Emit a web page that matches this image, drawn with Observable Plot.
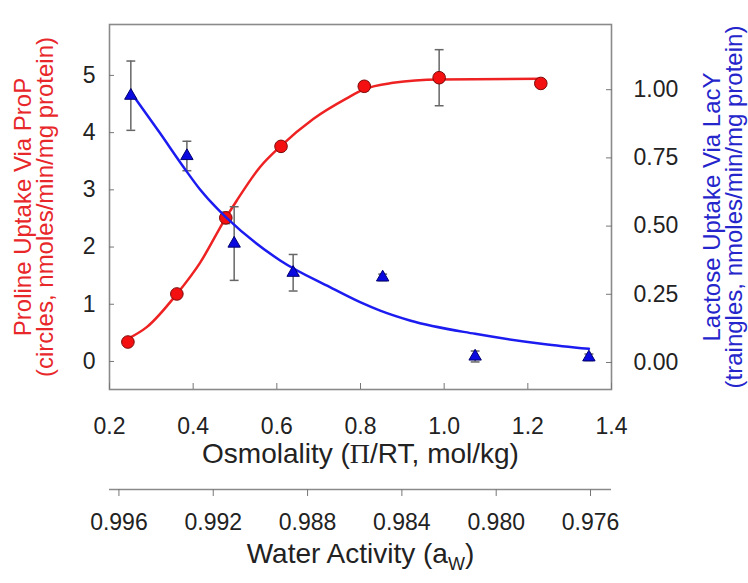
<!DOCTYPE html>
<html><head><meta charset="utf-8">
<script src="https://cdn.jsdelivr.net/npm/d3@7"></script>
<script src="https://cdn.jsdelivr.net/npm/@observablehq/plot@0.6"></script>
<style>
body{margin:0;background:#fff;}
#chart{position:relative;width:748px;height:583px;font-family:"Liberation Sans",Arial,sans-serif;}
#chart svg{position:absolute;left:0;top:0;}
</style></head><body><div id="chart"></div>
<script>
// Proline uptake via ProP (circles, left axis)
const prolineOsm = [0.244, 0.361, 0.478, 0.610, 0.809, 0.988, 1.231];
const prolineUptake = [0.34, 1.18, 2.51, 3.76, 4.81, 4.96, 4.86];
const prolineErr = [0, 0, 0.10, 0, 0.08, 0.49, 0];
// Lactose uptake via LacY (triangles, right axis)
const lactoseOsm = [0.251, 0.385, 0.498, 0.639, 0.853, 1.074, 1.346];
const lactoseUptake = [0.978, 0.757, 0.436, 0.329, 0.312, 0.022, 0.019];
const lactoseErr = [0.127, 0.054, 0.135, 0.067, 0.012, 0.020, 0.012];
// fitted curves
const prolineFitOsm = [0.245, 0.289, 0.361, 0.416, 0.478, 0.504, 0.560, 0.610, 0.687, 0.767, 0.809, 0.878, 0.988, 1.229];
const prolineFit = [0.40, 0.60, 1.18, 1.72, 2.51, 2.81, 3.40, 3.77, 4.24, 4.60, 4.76, 4.87, 4.93, 4.94];
const lactoseFitOsm = [0.257, 0.321, 0.373, 0.416, 0.460, 0.480, 0.608, 0.727, 0.799, 0.847, 0.918, 1.074, 1.237, 1.346];
const lactoseFit = [0.978, 0.840, 0.725, 0.635, 0.560, 0.530, 0.374, 0.276, 0.221, 0.190, 0.154, 0.105, 0.068, 0.050];
// ticks
const osmTicks = [0.2, 0.4, 0.6, 0.8, 1.0, 1.2, 1.4];
const prolineTicks = [0, 1, 2, 3, 4, 5];
const lactoseTicks = [0, 0.25, 0.5, 0.75, 1.0];
const awTicks = [0.996, 0.992, 0.988, 0.984, 0.980, 0.976];
const awDomain = [0.99640, 0.97511];
// labels
const xTitle = "Osmolality (\u03A0/RT, mol/kg)";
const awTitle = "Water Activity (aW)";
const leftTitle = "Proline Uptake Via ProP\n(circles, nmoles/min/mg protein)";
const rightTitle = "Lactose Uptake Via LacY\n(traingles, nmoles/min/mg protein)";

const proline = prolineOsm.map((x, i) => ({x, v: prolineUptake[i], e: prolineErr[i]}));
const lactose = lactoseOsm.map((x, i) => ({x, v: lactoseUptake[i], e: lactoseErr[i]}));
const prolineCurve = prolineFitOsm.map((x, i) => ({x, v: prolineFit[i]}));
const lactoseCurve = lactoseFitOsm.map((x, i) => ({x, v: lactoseFit[i]}));

const W = 748, H = 583;
const M = {left: 109, right: 137, top: 24, bottom: 194};
const font = '"Liberation Sans", Arial, sans-serif';
const RED = "#ee2222", BLUE = "#1c1cf0";
const TITLE_RED = "#e8272b", TITLE_BLUE = "#2525cc";
const capSymbol = {draw(ctx, size) { const w = Math.sqrt(size) / 2; ctx.moveTo(-w, 0); ctx.lineTo(w, 0); }};
const style = {fontFamily: font, fontSize: "23px", color: "#222", background: "transparent", overflow: "visible"};

const p1 = Plot.plot({
  width: W, height: H,
  marginLeft: M.left, marginRight: M.right, marginTop: M.top, marginBottom: M.bottom,
  style,
  x: {domain: [0.2, 1.4]},
  y: {domain: [-0.49, 5.89]},
  marks: [
    Plot.frame({stroke: "#8a8a8a", strokeWidth: 1.6}),
    Plot.axisX(osmTicks, {anchor: "bottom", tickSize: -6, tickPadding: 34, tickFormat: d3.format(".1f"), stroke: "#777", fill: "#222", fontSize: 23, label: null}),
    Plot.axisY(prolineTicks, {anchor: "left", tickSize: -5, tickPadding: 19, tickFormat: d3.format("d"), stroke: "#777", fill: "#222", fontSize: 23, label: null}),
    Plot.ruleX(proline.filter(d => d.e > 0), {x: "x", y1: d => d.v - d.e, y2: d => d.v + d.e, stroke: "#666", strokeWidth: 1.5}),
    Plot.dot(proline.filter(d => d.e > 0), {x: "x", y: d => d.v + d.e, symbol: capSymbol, r: 5, stroke: "#666", fill: "none", strokeWidth: 1.5}),
    Plot.dot(proline.filter(d => d.e > 0), {x: "x", y: d => d.v - d.e, symbol: capSymbol, r: 5, stroke: "#666", fill: "none", strokeWidth: 1.5}),
    Plot.line(prolineCurve, {x: "x", y: "v", curve: "monotone-x", stroke: RED, strokeWidth: 2.5}),
    Plot.dot(proline, {x: "x", y: "v", r: 6.3, fill: "#f41010", stroke: "#7a0a0a", strokeWidth: 1}),
    Plot.text([xTitle], {frameAnchor: "bottom", dy: 73, fontSize: 28, fill: "#222"}),
    Plot.text([leftTitle], {frameAnchor: "left", textAnchor: "middle", dx: -75, rotate: -90, fontSize: 24, lineHeight: 0.92, fill: TITLE_RED})
  ]
});

const p2 = Plot.plot({
  width: W, height: H,
  marginLeft: M.left, marginRight: M.right, marginTop: M.top, marginBottom: M.bottom,
  style,
  x: {domain: [0.2, 1.4], axis: null},
  y: {domain: [-0.099, 1.239]},
  marks: [
    Plot.axisY(lactoseTicks, {anchor: "right", tickSize: -6, tickPadding: 28, tickFormat: d3.format(".2f"), stroke: "#777", fill: "#222", fontSize: 23, label: null}),
    Plot.ruleX(lactose, {x: "x", y1: d => d.v - d.e, y2: d => d.v + d.e, stroke: "#666", strokeWidth: 1.5}),
    Plot.dot(lactose, {x: "x", y: d => d.v + d.e, symbol: capSymbol, r: 5, stroke: "#666", fill: "none", strokeWidth: 1.5}),
    Plot.dot(lactose, {x: "x", y: d => d.v - d.e, symbol: capSymbol, r: 5, stroke: "#666", fill: "none", strokeWidth: 1.5}),
    Plot.line(lactoseCurve, {x: "x", y: "v", curve: "monotone-x", stroke: BLUE, strokeWidth: 2.5}),
    Plot.dot(lactose, {x: "x", y: "v", symbol: "triangle", r: 4.6, fill: "#0a0ae0", stroke: "#000070", strokeWidth: 1}),
    Plot.text([rightTitle], {frameAnchor: "right", textAnchor: "middle", dx: 112, rotate: -90, fontSize: 24, lineHeight: 0.92, fill: TITLE_BLUE})
  ]
});

const p3 = Plot.plot({
  width: W, height: H,
  marginLeft: M.left, marginRight: M.right, marginTop: 0, marginBottom: H - 489,
  style,
  x: {domain: awDomain},
  y: {domain: [0, 1], axis: null},
  marks: [
    Plot.ruleY([0], {stroke: "#8a8a8a", strokeWidth: 1.6}),
    Plot.axisX(awTicks, {anchor: "bottom", tickSize: 7, tickPadding: 17, tickFormat: d3.format(".3f"), stroke: "#777", fill: "#222", fontSize: 23, label: null}),
    Plot.text([awTitle], {frameAnchor: "bottom", dy: 73, fontSize: 28, fill: "#222"})
  ]
});

const chart = document.getElementById("chart");
chart.append(p3, p1, p2);

// Serif Pi glyph and subscript W
const ns = "http://www.w3.org/2000/svg";
function tspan(txt, attrs) {
  const t = document.createElementNS(ns, "tspan");
  t.textContent = txt;
  for (const k in attrs) t.setAttribute(k, attrs[k]);
  return t;
}
for (const t of p1.querySelectorAll("text")) {
  if (t.textContent === xTitle) {
    t.textContent = "";
    t.append(tspan("Osmolality ("), tspan("\u03A0", {"font-family": "Liberation Serif, serif"}), tspan("/RT, mol/kg)"));
  }
}
for (const t of p3.querySelectorAll("text")) {
  if (t.textContent === awTitle) {
    t.textContent = "";
    t.append(tspan("Water Activity (a"), tspan("W", {"font-size": "18", dy: "7"}), tspan(")", {dy: "-7"}));
  }
}
</script></body></html>
